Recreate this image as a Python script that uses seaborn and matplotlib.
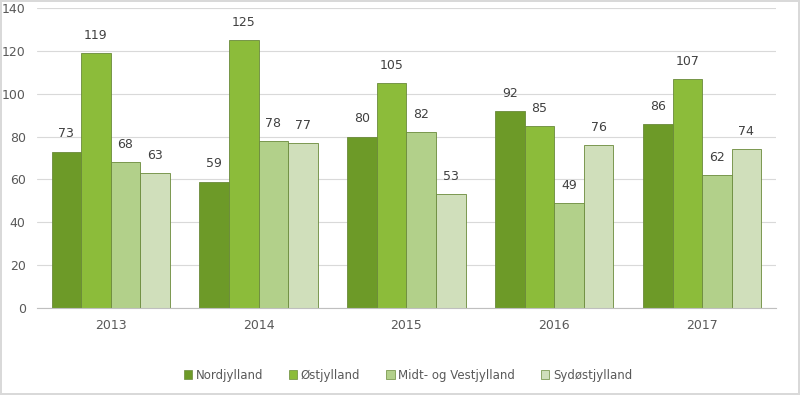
import matplotlib
matplotlib.use("Agg")
import matplotlib.pyplot as plt
import seaborn as sns
import pandas as pd

# data
aar = ["2013", "2014", "2015", "2016", "2017"]
regioner = ["Nordjylland", "Østjylland", "Midt- og Vestjylland", "Sydøstjylland"]
nordjylland = [73, 59, 80, 92, 86]
ostjylland = [119, 125, 105, 85, 107]
midt_vest = [68, 78, 82, 49, 62]
sydost = [63, 77, 53, 76, 74]

farver = ["#6d9a28", "#8cbc3a", "#b2d08a", "#d0dfbb"]

rows = []
for reg, vals in zip(regioner, [nordjylland, ostjylland, midt_vest, sydost]):
    for a, v in zip(aar, vals):
        rows.append({"aar": a, "region": reg, "antal": v})
df = pd.DataFrame(rows)

sns.set_style("white")
plt.rcParams["font.family"] = ["DejaVu Sans"]

fig = plt.figure(figsize=(8, 3.95), dpi=100)
ax = fig.add_axes([0.046, 0.22, 0.924, 0.76])

sns.barplot(data=df, x="aar", y="antal", hue="region", order=aar,
            hue_order=regioner, palette=farver, width=0.8, saturation=1,
            ax=ax, edgecolor="#6a8a3a", linewidth=0.6, legend=False)

# data labels over every bar
for cont in ax.containers:
    ax.bar_label(cont, padding=8, fontsize=9, color="#404040")

ax.set_ylim(0, 140)
ax.set_yticks(range(0, 141, 20))
ax.set_xlim(-0.5, 4.5)
ax.yaxis.grid(True, color="#d9d9d9", linewidth=0.8)
ax.set_axisbelow(True)
ax.set_xlabel("")
ax.set_ylabel("")
for s in ["top", "right", "left"]:
    ax.spines[s].set_visible(False)
ax.spines["bottom"].set_color("#bfbfbf")
ax.tick_params(axis="both", length=0, labelsize=9, colors="#595959", pad=8)

# legend below the plot
handles = [plt.Rectangle((0, 0), 1, 1, facecolor=c, edgecolor="#6a8a3a", linewidth=0.5)
           for c in farver]
fig.legend(handles, regioner, loc="center", bbox_to_anchor=(0.51, 0.05), ncol=4,
           frameon=False, fontsize=8.5, handlelength=0.7, handleheight=0.7,
           handletextpad=0.3, columnspacing=2.2, labelcolor="#595959")

# thin frame round the whole chart
fig.patch.set_edgecolor("#d9d9d9")
fig.patch.set_linewidth(1.5)

fig.savefig("out.png", dpi=100, edgecolor=fig.get_edgecolor())
